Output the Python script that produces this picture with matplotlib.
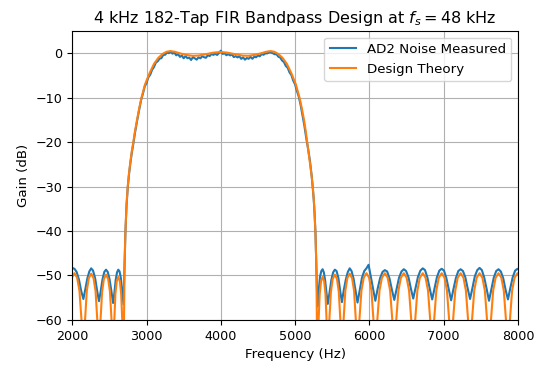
import matplotlib
matplotlib.use('Agg')
import matplotlib.pyplot as plt

# Design theory response (Hz, dB)
theory_freq = [
    1994, 2030, 2066, 2097, 2131, 2150,
    2167, 2196, 2223, 2255, 2287, 2314, 2343, 2360,
    2375, 2402, 2426, 2455, 2484, 2508, 2535, 2550,
    2561, 2581, 2599, 2620, 2641, 2659, 2679, 2690,
    2697, 2704, 2716, 2731, 2747, 2764, 2782, 2802, 2822, 2845,
    2872, 2900, 2932, 2980, 3040, 3100, 3160, 3220, 3270, 3320,
    3380, 3450, 3530, 3620, 3700, 3800, 3900, 3995, 4090, 4190,
    4290, 4370, 4460, 4540, 4610, 4670, 4720, 4770, 4830, 4890,
    4950, 5010, 5060, 5092, 5120, 5143, 5163, 5180, 5200, 5218,
    5238, 5256, 5273, 5286, 5293, 5300,
    5311, 5331, 5349, 5370, 5391, 5409, 5429, 5440,
    5455, 5482, 5506, 5535, 5564, 5588, 5615, 5630,
    5647, 5676, 5703, 5735, 5767, 5794, 5823, 5840,
    5859, 5893, 5924, 5960, 5996, 6027, 6061, 6080,
    6100, 6136, 6169, 6208, 6246, 6279, 6315, 6335,
    6355, 6391, 6424, 6463, 6501, 6534, 6570, 6590,
    6610, 6646, 6679, 6718, 6756, 6789, 6825, 6845,
    6865, 6901, 6934, 6973, 7011, 7044, 7080, 7100,
    7120, 7156, 7189, 7228, 7266, 7299, 7335, 7355,
    7375, 7411, 7444, 7483, 7521, 7554, 7590, 7610,
    7630, 7666, 7699, 7738, 7776, 7809, 7845, 7865,
    7885, 7921, 7954, 7993, 8031,
]
theory_gain = [
    -50.5, -49.5, -50.5, -53.4, -61.5, -80,
    -61.6, -53.5, -50.6, -49.6, -50.6, -53.5, -61.6, -80,
    -61.8, -53.7, -50.8, -49.8, -50.8, -53.7, -61.8, -80,
    -62.3, -54.2, -51.3, -50.3, -51.3, -54.2, -62.3, -80,
    -60, -48, -40, -34, -30, -27, -24.5, -22, -20, -17.5,
    -15, -12.5, -10, -7, -4.5, -2.4, -1, -0.1, 0.35, 0.5,
    0.35, 0, -0.35, -0.55, -0.5, -0.2, 0.15, 0.3, 0.15, -0.2,
    -0.5, -0.55, -0.35, 0, 0.35, 0.5, 0.35, -0.1, -1, -2.4,
    -4.5, -7, -10, -12.5, -15, -17.5, -20, -22, -24.5, -27,
    -30, -34, -40, -48, -60, -80,
    -62.3, -54.2, -51.3, -50.3, -51.3, -54.2, -62.3, -80,
    -61.8, -53.7, -50.8, -49.8, -50.8, -53.7, -61.8, -80,
    -61.6, -53.5, -50.6, -49.6, -50.6, -53.5, -61.6, -80,
    -61.5, -53.4, -50.5, -49.5, -50.5, -53.4, -61.5, -80,
    -61.5, -53.4, -50.5, -49.5, -50.5, -53.4, -61.5, -80,
    -61.5, -53.4, -50.5, -49.5, -50.5, -53.4, -61.5, -80,
    -61.5, -53.4, -50.5, -49.5, -50.5, -53.4, -61.5, -80,
    -61.5, -53.4, -50.5, -49.5, -50.5, -53.4, -61.5, -80,
    -61.5, -53.4, -50.5, -49.5, -50.5, -53.4, -61.5, -80,
    -61.5, -53.4, -50.5, -49.5, -50.5, -53.4, -61.5, -80,
    -61.5, -53.4, -50.5, -49.5, -50.5, -53.4, -61.5, -80,
    -61.5, -53.4, -50.5, -49.5, -50.5,
]

meas_freq = [
    1970, 2001, 2030, 2059, 2090, 2121, 2150,
    2175, 2203, 2230, 2255, 2280, 2308, 2335, 2360,
    2383, 2407, 2432, 2455, 2478, 2502, 2527, 2550,
    2567, 2585, 2603, 2620, 2637, 2655, 2673, 2690,
    2700, 2708, 2716, 2731, 2747, 2764, 2782, 2802, 2822, 2845,
    2872, 2900, 2930,
    2950, 2975, 3000, 3025, 3050, 3075, 3100, 3125, 3150, 3175,
    3200, 3225, 3250, 3275, 3300, 3325, 3350, 3375, 3400, 3425,
    3450, 3475, 3500, 3525, 3550, 3575, 3600, 3625, 3650, 3675,
    3700, 3725, 3750, 3775, 3800, 3825, 3850, 3875, 3900, 3925,
    3950, 3975, 4000, 4025, 4050, 4075, 4100, 4125, 4150, 4175,
    4200, 4225, 4250, 4275, 4300, 4325, 4350, 4375, 4400, 4425,
    4450, 4475, 4500, 4525, 4550, 4575, 4600, 4625, 4650, 4675,
    4700, 4725, 4750, 4775, 4800, 4825, 4850, 4875, 4900, 4925,
    4950, 4975, 5000, 5025, 5050, 5075, 5100, 5125, 5150, 5175,
    5200, 5225, 5237, 5250, 5262, 5275, 5283, 5290,
    5300, 5317, 5335, 5353, 5370, 5387, 5405, 5423,
    5440, 5463, 5488, 5512, 5535, 5558, 5583, 5607,
    5630, 5655, 5683, 5710, 5735, 5760, 5788, 5815,
    5840, 5869, 5900, 5931, 5960, 5989, 6020, 6051,
    6080, 6111, 6144, 6177, 6208, 6239, 6271, 6304,
    6335, 6366, 6399, 6432, 6463, 6494, 6526, 6559,
    6590, 6621, 6654, 6687, 6718, 6749, 6781, 6814,
    6845, 6876, 6909, 6942, 6973, 7004, 7036, 7069,
    7100, 7131, 7164, 7197, 7228, 7259, 7291, 7324,
    7355, 7386, 7419, 7452, 7483, 7514, 7546, 7579,
    7610, 7641, 7674, 7707, 7738, 7769, 7801, 7834,
    7865, 7896, 7929, 7962, 7993, 8024,
]
meas_gain = [
    -48.8, -48.3, -48.5, -49.2, -50.9, -53.5, -55.3,
    -53.2, -50.7, -49.1, -48.4, -48.9, -50.6, -53.4, -55.8,
    -53.6, -50.9, -49.2, -48.7, -49.2, -50.8, -53.5, -56.2,
    -54.0, -51.0, -49.3, -48.7, -49.1, -50.6, -53.6, -56.5,
    -50.0, -44.0, -40.3, -34.3, -30.3, -27.3, -24.8, -22.4, -20.4, -17.9,
    -15.3, -12.8, -10.3,
    -9.2, -7.5, -6.7, -5.4, -4.8, -3.7, -3.1, -2.1, -1.8, -1.2,
    -1.1, -0.35, -0.33, 0.17, 0.04, 0.4, -0.07, 0.16, -0.45, -0.18,
    -0.8, -0.5, -1.12, -0.63, -1.1, -0.96, -1.5, -0.85, -1.14, -1.42,
    -0.9, -1.13, -0.65, -0.88, -1.0, -0.41, -0.62, -0.14, -0.35, -0.11,
    -0.37, 0.07, 0.6, -0.14, 0.02, -0.43, -0.18, -0.47, -0.26, -0.85,
    -0.63, -0.92, -0.68, -1.25, -0.91, -1.43, -1.05, -1.24, -0.78, -1.23,
    -0.77, -0.89, -0.48, -0.67, -0.15, -0.33, 0.0, -0.02, 0.24, 0.2,
    0.02, -0.2, -0.22, -0.77, -0.95, -1.62, -1.97, -2.85, -3.25, -4.3,
    -4.9, -6.15, -7.0, -8.5, -9.8, -11.7, -14.0, -16.3, -19.1, -21.5,
    -24.2, -27.9, -30.2, -32.7, -36.0, -40.8, -45.8, -50.5,
    -57.0, -53.5, -50.3, -49.0, -48.6, -49.3, -51.2, -54.0,
    -56.4, -53.9, -51.0, -49.3, -48.7, -49.0, -50.6, -53.5,
    -56.0, -53.3, -50.9, -49.2, -48.4, -49.0, -50.8, -53.6,
    -56.1, -53.4, -50.5, -49.0, -48.4, -47.6, -50.4, -53.2,
    -55.7, -53.0, -50.6, -49.2, -48.8, -49.1, -50.7, -53.3,
    -55.5, -53.1, -50.5, -49.1, -48.6, -49.0, -50.4, -53.0,
    -55.2, -52.8, -50.3, -48.9, -48.4, -48.8, -50.5, -53.1,
    -55.4, -53.0, -50.4, -48.9, -48.5, -48.9, -50.6, -53.2,
    -55.6, -53.1, -50.6, -49.0, -48.6, -49.0, -50.4, -53.0,
    -55.3, -52.9, -50.2, -48.8, -48.3, -48.8, -50.5, -53.1,
    -55.7, -53.2, -50.5, -49.0, -48.6, -49.1, -50.6, -53.3,
    -55.4, -52.9, -50.4, -48.9, -48.5, -48.9,
]

x_ticks = [2000, 3000, 4000, 5000, 6000, 7000, 8000]
y_ticks = [0, -10, -20, -30, -40, -50, -60]

fig, ax = plt.subplots(figsize=(5.39, 3.66), dpi=100)
fig.subplots_adjust(left=0.134, right=0.961, bottom=0.126, top=0.915)

ax.plot(meas_freq, meas_gain, color='C0', label='AD2 Noise Measured')
ax.plot(theory_freq, theory_gain, color='C1', label='Design Theory')

ax.set_xlim(2000, 8000)
ax.set_ylim(-60, 5)
ax.set_xticks(x_ticks)
ax.set_yticks(y_ticks)
ax.tick_params(labelsize=9.2)
ax.grid(True)
ax.set_xlabel('Frequency (Hz)', fontsize=9.6)
ax.set_ylabel('Gain (dB)', fontsize=9.6)
ax.set_title('4 kHz 182-Tap FIR Bandpass Design at $f_s = 48$ kHz', fontsize=11.5)
ax.legend(loc='upper right', fontsize=9.6)

fig.savefig('out.png', dpi=100)
